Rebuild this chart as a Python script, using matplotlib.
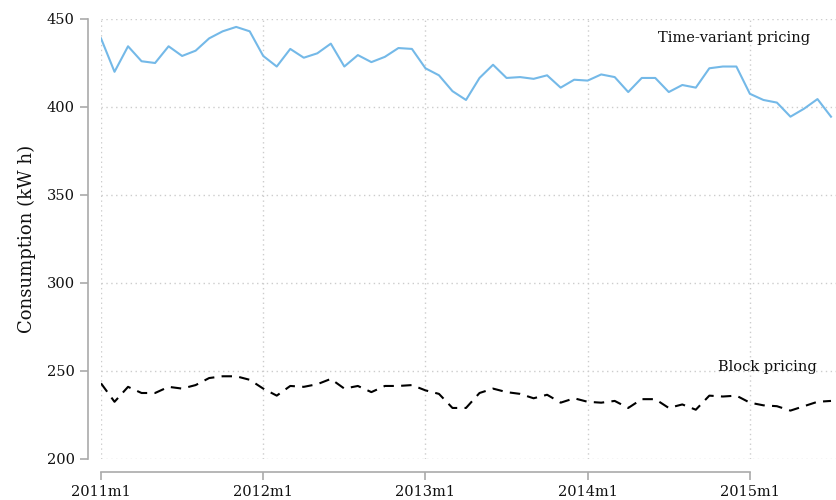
import numpy as np
import matplotlib
matplotlib.use("Agg")
import matplotlib.pyplot as plt

# monthly consumption, 2011m1 .. 2015m7
time_variant = [439, 420, 434.5, 426, 425, 434.5, 429, 432, 439, 443, 445.5, 443,
                429, 423, 433, 428, 430.5, 436, 423, 429.5, 425.5, 428.5, 433.5, 433,
                422, 418, 409, 404, 416.5, 424, 416.5, 417, 416, 418, 411, 415.5,
                415, 418.5, 417, 408.5, 416.5, 416.5, 408.5, 412.5, 411, 422, 423, 423,
                407.5, 404, 402.5, 394.5, 399, 404.5, 394.5]
block = [243, 232.5, 241, 237.5, 237.5, 241, 240, 242, 246, 247, 247, 245,
         240, 236, 241.5, 241, 242.5, 245.5, 240, 241.5, 238, 241.5, 241.5, 242,
         239, 237, 229, 229, 237.5, 240, 238, 237, 234.5, 236.5, 232, 234.5,
         232.5, 232, 233, 229, 234, 234, 229, 231, 228, 236, 235.5, 236,
         232, 230.5, 230, 227.5, 230, 232.5, 233]
months = np.arange(len(time_variant))
xtick_pos = [0, 12, 24, 36, 48]
xtick_labels = ['2011m1', '2012m1', '2013m1', '2014m1', '2015m1']
ytick_pos = [200, 250, 300, 350, 400, 450]

plt.rcParams['font.family'] = ['DejaVu Serif']

fig = plt.figure(figsize=(8.36, 5), dpi=100, facecolor='white')
ax = fig.add_axes([101/836, 41/500, 735/836, 440/500])

ax.plot(months, time_variant, color='#74b9e8', lw=1.5)
ax.plot(months, block, color='black', lw=1.5, dashes=(5, 3.5))

ax.text(46.8, 439, 'Time-variant pricing', fontsize=10.5, color='#111111',
        ha='center', va='center')
ax.text(49.3, 252, 'Block pricing', fontsize=10.5, color='#111111',
        ha='center', va='center')

ax.set_xlim(0, 54.37)
ax.set_ylim(200, 450)
ax.set_xticks(xtick_pos)
ax.set_xticklabels(xtick_labels)
ax.set_yticks(ytick_pos)
ax.set_ylabel('Consumption (kW h)', fontsize=13, color='#111111', labelpad=8)

ax.grid(True, color='#cccccc', linestyle=(0, (1, 2.5)), lw=1)
ax.set_axisbelow(True)

for s in ['top', 'right']:
    ax.spines[s].set_visible(False)
for s in ['left', 'bottom']:
    ax.spines[s].set_position(('outward', 9.4))
    ax.spines[s].set_color('#aaaaaa')
    ax.spines[s].set_linewidth(1.2)
ax.spines['left'].set_bounds(200, 450)
ax.spines['bottom'].set_bounds(0, 48)
ax.tick_params(colors='#aaaaaa', labelcolor='#111111', labelsize=10.5,
               length=6, width=1.2)

fig.savefig('out.png', dpi=100)
